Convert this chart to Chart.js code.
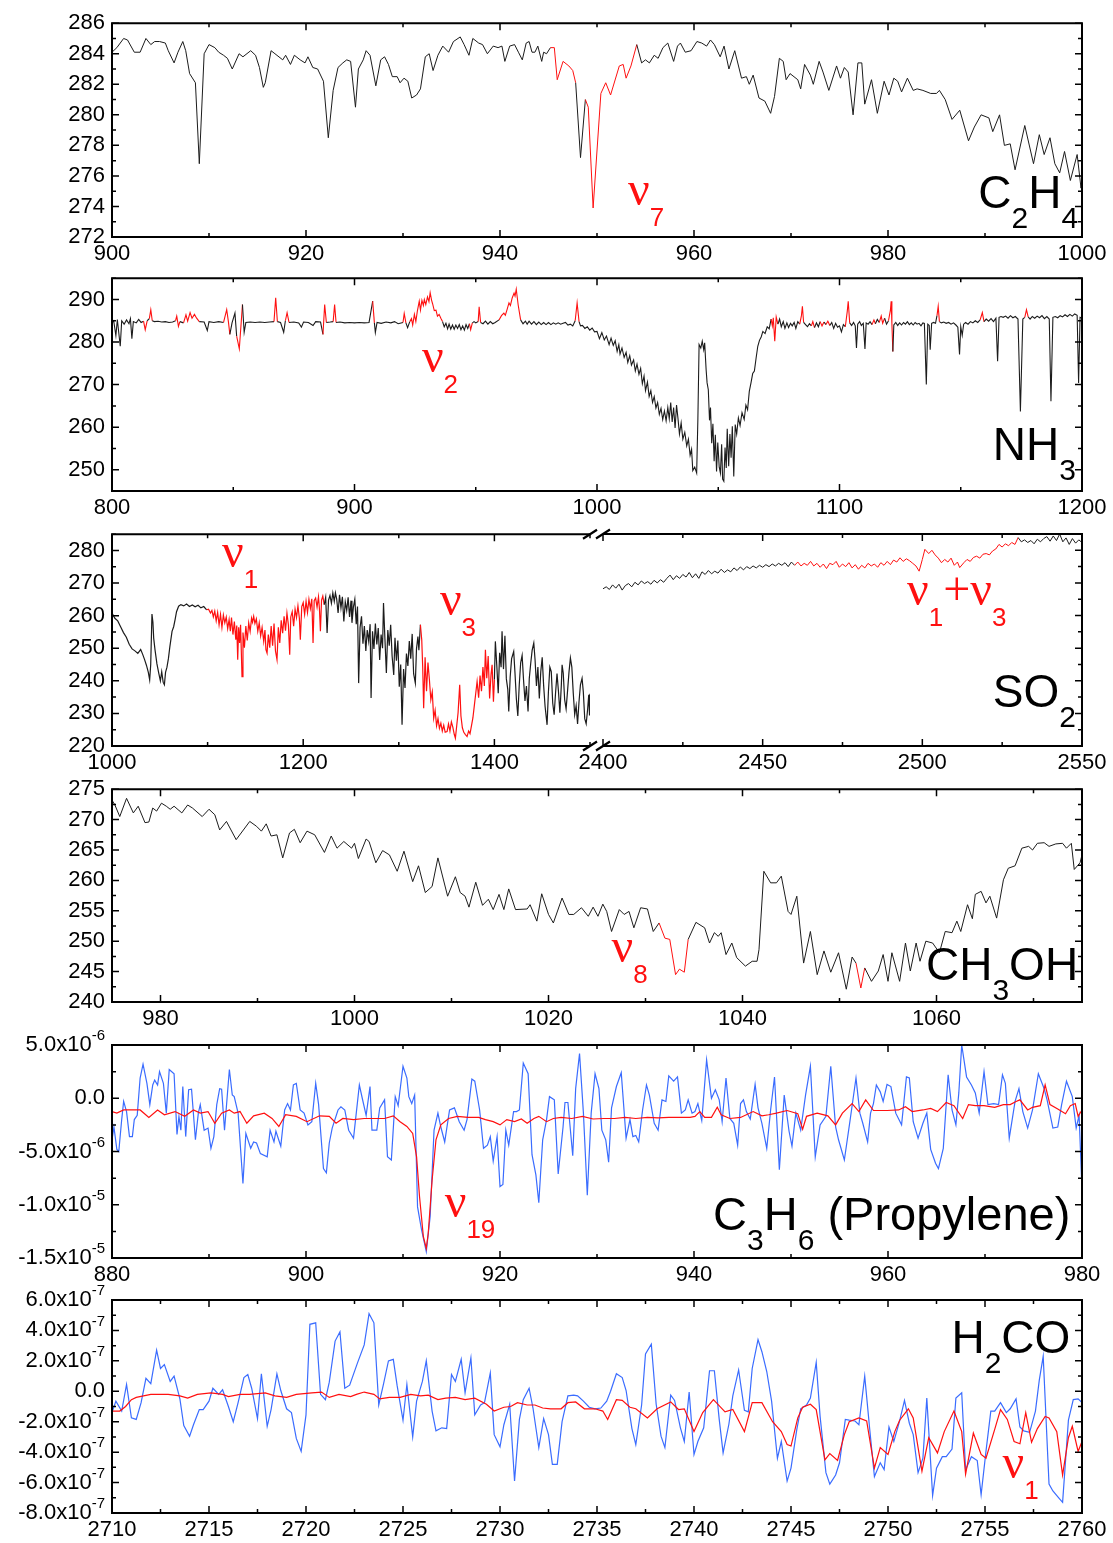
<!DOCTYPE html>
<html lang="en">
<head>
<meta charset="UTF-8" />
<title>IR spectra</title>
<script src="https://cdn.jsdelivr.net/npm/chart.js"></script>
<style>
  body { margin: 0; background: #fff; }
  #wrap { position: relative; width: 1113px; height: 1543px; overflow: hidden; background: #fff; }
  #wrap canvas { position: absolute; }
</style>
</head>
<body>
<div id="wrap">
  <canvas id="c2h4"></canvas>
  <canvas id="nh3"></canvas>
  <canvas id="so2a"></canvas>
  <canvas id="so2b"></canvas>
  <canvas id="ch3oh"></canvas>
  <canvas id="c3h6"></canvas>
  <canvas id="h2co"></canvas>
</div>
<script>
const SANS = "'Liberation Sans', Arial, sans-serif";
const SERIF = "'Liberation Serif', 'Times New Roman', serif";
const BLACK = '#1c1c1c', RED = '#ff1010', BLUE = '#3a6cff';

// ---- C2H4 (cm-1, signal) ----
const c2h4 = [[900,284.1],[900.5,284.4],[901.2,285.0],[901.6,284.9],[902.3,284.1],[902.9,284.1],[903.5,285.0],[904.0,284.6],[904.4,284.8],[904.9,284.8],[905.5,284.7],[905.8,284.2],[906.4,283.4],[906.8,284.1],[907.3,284.8],[907.6,284.2],[908.0,282.7],[908.6,282.1],[909.0,276.8],[909.5,284.0],[910.0,284.6],[910.6,284.4],[911.0,284.1],[911.5,283.9],[911.9,283.7],[912.4,283.0],[913.1,284.0],[913.5,283.8],[914.3,284.2],[914.8,283.9],[915.2,283.1],[915.6,281.8],[915.8,282.1],[916.4,284.2],[916.8,284.0],[917.6,283.6],[917.9,283.9],[918.4,283.3],[918.8,283.9],[919.4,283.6],[919.9,283.4],[920.2,283.8],[920.7,283.1],[921.2,283.0],[921.8,282.2],[922.3,278.5],[922.8,281.6],[923.3,283.1],[923.8,283.4],[924.2,283.6],[924.6,283.5],[925.1,280.5],[925.4,283.0],[925.9,283.6],[926.2,284.2],[926.6,283.9],[927.2,281.9],[927.7,283.6],[928.1,283.8],[928.5,283.3],[928.9,282.5],[929.4,282.5],[929.7,282.1],[930.1,282.4],[930.5,282.2],[930.9,281.1],[931.4,281.3],[931.8,281.7],[932.3,283.8],[932.7,284.0],[933.1,282.9],[933.6,283.9],[934.1,284.5],[934.7,284.1],[935.2,284.8],[935.9,285.1],[936.3,284.6],[936.8,283.9],[937.2,285.0],[937.8,284.7],[938.2,284.6],[938.7,284.0],[939.3,284.5],[939.8,284.4],[940.2,284.5],[940.5,283.5],[941.0,284.5],[941.5,284.6],[941.9,284.1],[942.3,283.6],[942.7,284.7],[943.0,284.8],[943.3,284.1],[943.6,284.1],[943.9,284.5],[944.3,283.5],[944.5,284.1],[944.8,284.0],[945.2,284.4],[945.6,284.4],[945.9,282.3],[946.5,283.5],[947.1,283.2],[947.5,282.9],[947.8,282.1],[948.3,277.2],[948.8,281.0],[949.1,280.5],[949.6,273.9],[950.4,281.4],[950.9,282.1],[951.4,281.3],[952.3,283.2],[952.7,283.3],[953.0,282.4],[953.5,283.2],[954.1,284.6],[954.6,283.4],[955.0,283.6],[955.4,283.4],[955.9,283.9],[956.3,283.7],[956.8,284.4],[957.3,284.7],[957.9,283.5],[958.3,284.5],[958.6,284.7],[959.1,284.1],[959.7,284.2],[960.3,284.8],[960.8,284.7],[961.3,284.5],[961.7,284.9],[962.1,284.6],[962.7,283.8],[963.1,284.5],[963.6,283.0],[964.2,284.2],[964.9,282.4],[965.4,282.5],[965.7,282.0],[966.1,282.6],[966.7,281.1],[967.3,280.9],[967.9,280.1],[968.3,281.2],[968.8,283.7],[969.2,283.5],[969.5,282.3],[969.9,282.7],[970.7,282.3],[971.0,281.7],[971.4,283.3],[972.0,282.6],[972.3,282.0],[972.9,283.5],[973.3,282.8],[973.9,281.6],[974.7,283.2],[975.1,282.4],[975.5,283.1],[975.9,282.8],[976.4,280.0],[976.9,283.4],[977.3,283.4],[977.6,280.7],[978.3,282.3],[978.9,280.1],[979.6,282.2],[980.1,281.3],[980.6,282.4],[981.0,282.2],[981.4,281.5],[982.0,282.4],[982.6,281.6],[983.0,281.7],[983.6,281.6],[984.4,281.4],[985.0,281.4],[985.3,281.6],[985.9,281.0],[986.6,279.7],[987.4,280.3],[988.3,278.3],[988.9,279.2],[989.6,280.0],[990.4,279.8],[990.8,278.9],[991.5,280.0],[992.0,278.0],[992.6,278.1],[993.1,276.4],[994.1,279.3],[995.0,276.8],[995.6,278.7],[996.1,277.4],[996.7,278.5],[997.2,276.8],[997.7,276.2],[998.2,277.6],[998.8,275.7],[999.5,277.4],[999.9,275.2],[1000,276.0]];
const c2h4Red = [[945.1,947.7],[948.7,954.1]];
const c2h4XTicks = [900,920,940,960,980,1000];
const c2h4YTicks = [272,274,276,278,280,282,284,286];

// ---- NH3 ----
const nh3 = [[800,284.5],[800.7,285],[801.6,281.5],[802.2,285.3],[803.4,279],[804,285],[805,284.2],[806,285.2],[807,284.3],[807.6,285.5],[808.2,280.8],[808.8,284.8],[810,284.5],[811,285.3],[812,284.6],[813,284.9],[813.7,282.9],[814.5,285],[815.4,285.5],[816,287.6],[816.6,285],[817.5,284.8],[819,284.9],[820.5,284.7],[822,284.8],[823.5,284.6],[825,284.7],[826.2,285],[826.7,286.1],[827.4,283.7],[828,284.8],[829.5,284.5],[830.5,286.4],[831.2,284.9],[832.2,286.9],[833,285.6],[834,286.5],[834.9,285.6],[836,284.8],[838,284.7],[839.3,282.7],[840,284.8],[842,284.6],[844,284.8],[846,284.6],[847.3,287.6],[848,284.8],[848.6,281.8],[849.5,284.5],[850.7,286.8],[851.4,281.4],[852.5,278.4],[853.8,288.8],[854.5,282.3],[855.2,284.6],[857,284.7],[859,284.6],[861,284.7],[863,284.6],[865,284.7],[866.8,284.8],[867.5,290.4],[868.2,284.8],[869.5,284.6],[870.8,282.3],[871.5,285],[872.2,286.9],[873,284.6],[875,284.7],[877,284.5],[878.1,283.5],[879,284.7],[881,284.6],[882.9,283.9],[884,284.8],[886,284.7],[887,281.8],[887.7,288.8],[888.4,284.6],[890,284.7],[891.2,284.8],[891.8,288.8],[892.4,284.6],[894,284.7],[896,284.5],[898,284.6],[900,284.5],[902,284.6],[904,284.5],[906,284.6],[907.5,289.6],[908.2,284.5],[908.6,282.2],[909.3,284.6],[911,284.4],[913,284.7],[915,284.5],[916.5,284.8],[918,284.3],[920,284.6],[920.5,286.7],[921.2,284.5],[921.9,283.4],[922.8,284.8],[923.5,285.5],[924,284],[924.7,286.5],[925.3,284.8],[925.9,287.2],[926.7,289.6],[927.2,287.5],[927.8,289.8],[928.4,288.6],[928.8,290],[929.4,288.8],[930.1,290.6],[930.7,289.5],[931.2,291.6],[931.8,289.8],[932.2,289],[932.9,287.4],[933.6,287.5],[934.2,286.1],[934.9,286.5],[935.6,285.6],[936.3,284.8],[937,283.6],[937.7,284.4],[938.4,283.1],[939,284.2],[939.7,283],[940.4,284],[941.1,283],[941.8,284],[942.5,283.2],[943.2,284.1],[943.9,282.9],[944.6,283.8],[945.3,282.8],[946,284.1],[946.7,283.2],[947.4,284.3],[947.9,282.9],[948.6,284.5],[949.3,284.8],[950,284.5],[951,284.8],[951.4,288.3],[952,284.6],[953,284.3],[954,284.9],[955,284.2],[956,284.8],[957,284.3],[958,284.6],[959.6,285.2],[960.6,286.2],[961.6,286.8],[962.2,286.3],[963,287.8],[963.7,289.2],[964.3,288.6],[965,290.3],[965.8,291.5],[966.2,290.8],[966.7,292.4],[967.5,288.7],[968.5,285.2],[969.5,284.3],[970.5,284.9],[971.2,284.2],[972,284.9],[973,284.2],[974,284.8],[975,284.1],[976,284.7],[977,284.1],[978,284.6],[979,284.1],[980,284.6],[981,284.1],[982,284.5],[983,284.2],[984,284.5],[985,284.2],[986,284.4],[987,284.6],[988,284],[989,284.2],[990,283.8],[991,285],[991.8,289.2],[992.6,284.8],[993.2,283.8],[994,283.9],[995,283.2],[996,283.6],[997,282.8],[998,283.3],[999,282.4],[1000,282.5],[1001,280.8],[1002,282.2],[1003,280.5],[1003.9,281.4],[1005,279.4],[1005.8,280.9],[1006.7,279.2],[1007.5,280.3],[1008.3,277.8],[1009,279.4],[1009.5,277.2],[1010.3,278.6],[1011.2,276.4],[1012,277.6],[1012.7,275.2],[1013.5,276.8],[1014.2,274.6],[1015.1,275.8],[1015.8,273.2],[1016.5,274.8],[1017.3,272.4],[1018,273.8],[1018.7,270.2],[1019.4,272],[1020,268.6],[1020.8,270.6],[1021.5,267.2],[1022.2,268.6],[1022.9,265.8],[1023.6,267.2],[1024.3,264.5],[1025,265.8],[1025.7,263],[1026.4,264.4],[1027.1,261.8],[1027.8,263.8],[1028.5,261.5],[1029.2,264.6],[1029.8,262],[1030.4,265.8],[1031,261.2],[1031.6,264.6],[1032.2,259.8],[1032.8,265.2],[1033.4,262],[1034,258.4],[1034.7,261],[1035.4,257.2],[1036.2,258.8],[1037,255.6],[1037.7,257.2],[1038.4,253.4],[1039,254.8],[1039.5,249.8],[1040.3,250.6],[1041.1,249.2],[1041.6,262],[1042.1,279.4],[1042.8,278.6],[1043.4,280.2],[1044,278.2],[1044.4,279.8],[1045,273.5],[1045.4,270.4],[1045.9,268.8],[1046.4,261.6],[1046.8,264.6],[1047.3,256.2],[1047.8,260.8],[1048.3,252],[1048.8,258.2],[1049.3,249.6],[1049.8,256.4],[1050.4,250.6],[1050.9,249.2],[1051.4,256],[1051.8,247.8],[1052.3,247.3],[1052.8,255.2],[1053.3,250.4],[1053.7,259.6],[1054.3,250.8],[1054.8,258.4],[1055.3,252.8],[1055.8,260.2],[1056.4,248.4],[1057,260.6],[1057.6,258.4],[1058.3,262.2],[1059,260.4],[1059.8,263.4],[1060.7,261.8],[1061.4,265.2],[1062.1,264.1],[1062.8,268.4],[1063.5,270.4],[1064.2,272.6],[1064.9,273.2],[1065.6,276.2],[1066.3,279],[1067,280.4],[1067.7,281.2],[1068.4,282.5],[1069.3,282],[1070.2,283.6],[1071,283.1],[1071.8,285.4],[1072.3,283.8],[1072.7,285.7],[1073.3,280.2],[1073.9,285.9],[1074.6,284.2],[1075.3,285.4],[1076,283.6],[1076.8,284.8],[1077.5,283.2],[1078.3,284.5],[1079,283.4],[1079.8,284.4],[1080.5,283.8],[1081.3,284.6],[1082,283.2],[1082.8,284.8],[1083.6,284.2],[1084.3,286.2],[1084.7,288.4],[1085.2,284.6],[1086,284.1],[1086.8,283.6],[1087.6,284.3],[1088.4,283.8],[1089,284.8],[1089.7,283.4],[1090.5,284.5],[1091.3,283.6],[1092,284.8],[1092.8,283.8],[1093.6,284.7],[1094.4,284.1],[1095.2,284.9],[1096,283.9],[1096.8,284.6],[1097.6,283.2],[1098.4,284.4],[1099.2,283.5],[1100,283.8],[1100.8,282.4],[1101.6,284.1],[1102.4,283.6],[1103.2,287.2],[1103.6,289.6],[1104.2,284.5],[1105,283.9],[1105.8,284.6],[1106.5,283.8],[1107,278.6],[1107.5,284.2],[1108.3,284.8],[1109,283.9],[1109.8,284.4],[1110.5,278.4],[1111,284.5],[1111.8,284.2],[1112.6,284.8],[1113.4,284.1],[1114.2,285.2],[1114.8,284.3],[1115.6,285.3],[1116.4,284.6],[1117.2,286.1],[1117.8,284.4],[1118.6,285.6],[1119.4,284.2],[1120.2,285],[1121,287.5],[1121.3,289.6],[1121.6,284.4],[1122,277.8],[1122.4,284],[1123.2,284.6],[1124,283.9],[1124.8,284.5],[1125.6,284],[1126.4,284.6],[1127.2,284.2],[1128,284.8],[1128.8,284.1],[1129.6,284.5],[1130.4,284],[1131.2,284.6],[1132,284.2],[1132.8,284.4],[1133.6,283.8],[1134.4,284.5],[1135,284.4],[1135.8,270],[1136.4,284.2],[1137,283.9],[1137.4,278.2],[1138,284.4],[1138.8,284.6],[1139.6,284.4],[1140.2,286.2],[1140.7,288.4],[1141.2,284.8],[1142,284.5],[1143,284.7],[1144,284.4],[1145,284.6],[1146,284.2],[1147,284.5],[1148,284],[1148.8,283.5],[1149.5,277.1],[1150,283.6],[1150.6,281.6],[1151.2,284.2],[1152,284.6],[1153,284.2],[1154,284.8],[1155,284.5],[1156,285],[1157,284.6],[1158,285.2],[1158.9,286.9],[1159.6,284.8],[1160.5,285.4],[1161.5,284.9],[1162.5,285.5],[1163.5,284.8],[1164.5,285.6],[1165.2,275.5],[1165.8,285.8],[1166.6,286],[1167.5,285.8],[1168.5,286.1],[1169.5,285.6],[1170.5,286.2],[1171.5,285.7],[1172.5,286],[1173.6,285.4],[1174.6,263.7],[1175.6,285.4],[1176.4,285.8],[1177.1,287.6],[1177.8,285.9],[1178.6,285.4],[1179.5,286],[1180.5,285.6],[1181.5,286.1],[1182.5,285.7],[1183.5,286.2],[1184.5,285.5],[1185.5,286],[1186.5,285.4],[1187.2,266.1],[1188,285.8],[1189,286],[1190,285.7],[1191,286.2],[1192,285.9],[1193,286.4],[1194,286],[1195,286.5],[1196,286.1],[1197,286.6],[1198,286.3],[1198.6,270.4],[1199.2,285.8],[1200,285.6]];
const nh3Red = [[813,814.6],[815.3,816.7],[826,827.8],[830,835.5],[846.6,848.3],[851.9,853.2],[867.1,868],[871.8,872.7],[887.3,888.1],[891.4,892.2],[907,908],[920.2,921],[923,936],[947.6,948.3],[950.7,951.8],[959,968.2],[991.3,992.3],[1071.5,1074.3],[1083.8,1085.3],[1088.6,1089.4],[1092.4,1093.8],[1094.8,1095.8],[1102.8,1104],[1113.8,1114.6],[1116.8,1118.2],[1120.6,1121.8],[1140,1141],[1158.4,1159.3],[1176.7,1177.5]];
const nh3XTicks = [800,900,1000,1100,1200];
const nh3YTicks = [250,260,270,280,290];

// ---- SO2, low and high wavenumber parts ----
const so2Low = [[1000,260.8],[1003,259.2],[1006,258.4],[1009,256.6],[1012,254.8],[1015,253.4],[1018,251.2],[1021,249.8],[1024,249.2],[1027,248.4],[1030,249.6],[1032,248.2],[1034,246.6],[1036,244.8],[1038,242.6],[1039.4,240.3],[1040.5,245],[1041.8,260.5],[1042.8,258],[1043.6,253.1],[1045,249.5],[1047,245.2],[1049,242.2],[1050.6,240],[1052,242.8],[1053.5,239.6],[1054.8,238.8],[1056,242.6],[1057.5,244.2],[1059,246.8],[1060.5,250.4],[1062.8,255.2],[1064.5,256.6],[1066,258.8],[1067.5,261.2],[1069.7,262.9],[1072,263.4],[1075,263],[1078,263.6],[1081,262.8],[1084,263.3],[1087,262.7],[1090,263.2],[1093,262.4],[1096,262.8],[1099,261.8],[1101,262],[1103,260.8],[1104.5,261.6],[1106,259.6],[1107.5,261.4],[1109,258.4],[1110.5,261],[1112,257.2],[1113.5,260.4],[1115,256.4],[1116.5,260.2],[1118,257.8],[1119.5,259.6],[1121,256],[1122.5,258.8],[1123.8,255.2],[1125,259.4],[1126.5,254.2],[1128,258.2],[1129.5,252.6],[1130.5,257],[1131.5,246.5],[1132.5,256.4],[1133.5,251.6],[1134.5,257.2],[1136,241.3],[1137,254.8],[1138.5,250.2],[1140,256.8],[1141.5,252.4],[1143,257.8],[1144.5,255.2],[1146,259.2],[1147,258],[1148.2,259.8],[1149.5,257.6],[1151,259],[1152.5,255.2],[1154,257.8],[1155.5,253.8],[1157,256.4],[1158.7,252.1],[1160,255.6],[1161,249.6],[1162.2,248.5],[1163.5,254.2],[1165,250.2],[1166.5,256.8],[1168,250.8],[1169.5,257.6],[1171,249.2],[1172.6,246.5],[1174,256.4],[1175.5,251.6],[1177,258.6],[1178.5,254.6],[1180,259.8],[1181.5,255.4],[1183,260.8],[1184.5,257.2],[1185.9,248],[1187,259.6],[1188.5,261.2],[1190,256.8],[1191.5,262],[1193,259.4],[1194.5,263],[1196,259.2],[1197,252.6],[1198.5,262.8],[1200,264],[1201.5,260.4],[1203,264.4],[1204.5,261],[1206,265],[1207.5,262.2],[1209,265.2],[1210.3,251.6],[1211.5,264.6],[1213,265.4],[1214.5,262.6],[1216,265.8],[1217,262],[1218,255.2],[1219.2,264.8],[1220.5,266],[1222,263.4],[1223.5,265.6],[1225,254.7],[1226.5,264.8],[1228,266.2],[1229.5,263.8],[1231,267],[1232.5,264.4],[1233.7,267],[1235,265.2],[1236.5,260.8],[1238,266.4],[1239.5,262.4],[1241,265.8],[1242.5,258.2],[1244,264.2],[1245.5,261.6],[1247,265.6],[1248.5,259.6],[1250,264.6],[1251,257.8],[1252.5,262.6],[1254,265],[1255.5,257.4],[1256.8,262.8],[1258,239.3],[1259.5,256.4],[1261,259.8],[1262.5,251.4],[1264,256.8],[1265.5,249.2],[1267,255.6],[1268.5,252.2],[1270,257.4],[1271,234.7],[1272.5,255.2],[1274,249.8],[1275.5,257.6],[1277,251.2],[1278.5,256.2],[1280,246.4],[1281.5,254.2],[1283,250],[1284,263.9],[1285.5,252.8],[1287,242.4],[1288.5,255.6],[1290,250.8],[1291.5,257.2],[1293,247.6],[1294.7,241.8],[1296,253.2],[1297.5,246.2],[1299,252.4],[1300.5,238.2],[1302,245],[1303.4,226.5],[1305,243.6],[1306.5,237.8],[1308,248.4],[1309.5,244.6],[1311,252.2],[1312.5,246.8],[1314,254.4],[1315.5,242.2],[1317.3,239.3],[1318.5,249.8],[1320,253.6],[1321,249.4],[1322.6,257.2],[1324,252.6],[1325,244.2],[1326,231.6],[1327.5,247.2],[1329,236.8],[1330.5,245.6],[1332,240.4],[1333.5,234.2],[1335,236.6],[1336.5,228.5],[1338,231],[1339.5,226.2],[1341,228.4],[1342.5,225.4],[1344,227],[1345.5,224.6],[1347,226.4],[1348.5,224.2],[1350.5,224.4],[1352,226.8],[1353.5,224.6],[1355,227.4],[1356.5,225.8],[1358,223.6],[1359.2,222.4],[1360.5,226],[1362,230.2],[1363.7,238.8],[1365,229.2],[1366.5,225.6],[1368,224.2],[1369.5,223.6],[1371.4,222.9],[1373,224.6],[1374.5,223.8],[1376,226.2],[1377.5,228.6],[1379,232.4],[1380.5,236.2],[1381.9,239.8],[1383.5,234.8],[1385,241.6],[1386.5,236.8],[1388,244.2],[1389.5,238.4],[1390.6,249.5],[1392,240.8],[1393.5,247.6],[1395,234.6],[1396.5,242],[1397.6,244.9],[1399,233.6],[1400,240.4],[1401,252.1],[1402.5,244.8],[1404,236.2],[1405.5,248.6],[1407,244.2],[1408,255.2],[1409.5,243.6],[1411,253.8],[1412.5,240.6],[1414,237.4],[1415,230.6],[1416.5,241.2],[1418,246.8],[1420.2,249],[1421.5,242.6],[1423,234.4],[1424.5,229.2],[1426,238.8],[1427.5,245.6],[1429,247.8],[1430.5,240.2],[1432,233.8],[1433.5,238.4],[1435.2,230.6],[1436.5,240.8],[1438,245.4],[1439.5,249.4],[1441.2,251.6],[1442.5,246.6],[1444,238.4],[1445.5,244.2],[1447,234.6],[1448.5,242.8],[1450,247.2],[1451.5,238.6],[1453,232.2],[1455.1,226.5],[1456.5,236.6],[1458,244.2],[1459.5,242.8],[1461,233.2],[1462.5,229.6],[1464,236.4],[1465.5,242.2],[1467,236.8],[1468.5,230.2],[1470,238.6],[1470.8,244.9],[1472,242.4],[1473.5,234.2],[1475,231.4],[1476.5,236.8],[1478,242.6],[1479.5,247],[1481,244.2],[1482.5,236.2],[1484,229.6],[1485.5,232.4],[1487,226.8],[1488.5,233.6],[1490,238.8],[1491.7,240.8],[1493,236.6],[1494.5,228.4],[1496,226.8],[1497.5,231.2],[1498.7,235.7],[1499.5,229.4],[1500,236]];
const so2LowRed = [[1100,1221.5],[1323.3,1399.5]];
const so2High = [[2400,268.2],[2401,268.8],[2402,268],[2403,269.4],[2404,268.4],[2405,269.6],[2406,267.8],[2407,269.2],[2408,269.8],[2409,268.8],[2410,270.2],[2411,269.4],[2412,270.6],[2413,269.8],[2414,270.4],[2415,269.6],[2416,270.8],[2417,270],[2418,271],[2419,270.2],[2420,271.4],[2421,272.4],[2422,271],[2423,272.2],[2424,271.4],[2425,272.6],[2426,271.8],[2427,273.2],[2428,271.6],[2429,272.8],[2430,271.4],[2431,273.4],[2432,272.6],[2433,273.8],[2434,272.8],[2435,273.6],[2436,273],[2437,274.2],[2438,273.2],[2439,274],[2440,273.4],[2441,274.6],[2442,273.8],[2443,274.9],[2444,274],[2445,275],[2446,274.4],[2447,275.2],[2448,274.6],[2449,275.4],[2450,274.8],[2451,275.6],[2452,275],[2453,275.8],[2454,275.2],[2455,276],[2456,275.4],[2457,276.2],[2458,275],[2459,276.4],[2460,275.4],[2461,276.4],[2462,275.2],[2463,276],[2464,275.4],[2465,276.6],[2466,275.2],[2467,276],[2468,274.8],[2469,275.8],[2470,274.4],[2471,276],[2472,275.6],[2473,276.6],[2474,274.8],[2475,275.8],[2476,275],[2477,276.2],[2478,274.6],[2479,275.6],[2480,274.2],[2481,275.4],[2482,274.6],[2483,276],[2484,275.2],[2485,275.8],[2486,274.8],[2487,276.2],[2488,275.4],[2489,276.6],[2490,275.6],[2491,277],[2492,276.4],[2493,277.7],[2494,276.6],[2495,277.4],[2496,276.8],[2497,276],[2498,275.2],[2499,273.6],[2500,277.2],[2500.8,280.3],[2502,279],[2503,280],[2504,278.6],[2505,277.6],[2506,276.2],[2507,277.2],[2508,276.4],[2509,277.6],[2510,275.4],[2511,276.4],[2511.7,274.7],[2513,276.2],[2514,277.2],[2515,276.6],[2516,277.8],[2517,278.2],[2518,277.6],[2519,278.8],[2520,279],[2521,278.6],[2522,279.8],[2523,280.4],[2524,281.8],[2525,281],[2526,282],[2527,281.4],[2528,282.4],[2529,281.8],[2530,283.9],[2531,282.6],[2532,283.2],[2533,282.4],[2534,283],[2535,282],[2536,283.4],[2537,282.6],[2538,283.6],[2539,284.2],[2540,282.8],[2541,284.4],[2542,283],[2543,285],[2544,282.6],[2545,283.8],[2546,281.8],[2547,283.6],[2548,282.2],[2549,283.2],[2550,282.4]];
const so2HighRed = [[2460,2530]];
const so2LowXTicks = [1000,1200,1400];
const so2HighXTicks = [2400,2450,2500,2550];
const so2YTicks = [220,230,240,250,260,270,280];

// ---- CH3OH ----
const ch3oh = [[975,273.2],[975.3,272.4],[975.8,270.5],[976.5,273.5],[977.2,271.1],[977.7,272.2],[978.4,269.5],[978.8,269.6],[979.2,271.9],[979.6,271.4],[980.1,272.7],[980.6,272.2],[981,271.7],[981.4,272.2],[982.2,271.1],[982.8,272.4],[983.3,271.9],[984.3,270.5],[985,271.7],[985.6,270.8],[986.1,268.3],[986.8,269.7],[987.8,266.7],[989.2,269.7],[989.9,268.9],[990.4,268.1],[990.9,269.3],[991.4,267.3],[992,267.5],[992.6,263.7],[993.3,267.8],[993.8,268.4],[994.4,266.2],[995.1,268.1],[995.9,267.5],[996.9,264.6],[997.6,267.3],[998.2,265.3],[998.9,266.4],[999.7,265.3],[1000,266.1],[1000.4,263.6],[1001.2,266.8],[1001.5,266.4],[1002.2,262.9],[1002.9,264.9],[1003.6,264.2],[1004.4,261.5],[1005.1,264.8],[1006,259.8],[1006.6,262.4],[1007.3,258.0],[1008,259],[1008.6,263.7],[1009.6,257.4],[1010.4,260.6],[1010.9,258],[1011.4,257.4],[1011.8,255.6],[1012.5,259.7],[1013.2,255.9],[1013.8,256.9],[1014.3,255.2],[1014.9,257.7],[1015.4,255.2],[1015.9,258.6],[1016.6,255.2],[1017.8,255.3],[1018.1,256],[1018.8,253.3],[1019.3,257.8],[1020,254.4],[1020.5,253],[1021.4,257.1],[1022.1,254.4],[1022.6,254.4],[1023.4,255.5],[1024.1,254.1],[1024.6,255.6],[1025.1,254.1],[1025.6,256.1],[1026,254.9],[1026.5,251.6],[1027.3,255.2],[1027.8,254.4],[1028.3,254.9],[1028.8,252.2],[1029.5,255.5],[1030.2,255.3],[1030.8,251.6],[1031.4,253],[1032,250.5],[1032.5,250.3],[1033.1,244.5],[1033.5,245.4],[1034,244.9],[1034.4,250.3],[1035.2,253.1],[1036.1,252.2],[1036.6,249.7],[1037.1,251.4],[1037.5,250.8],[1037.8,251.4],[1038.3,247.8],[1038.9,249.7],[1039.4,247.3],[1040.3,245.9],[1041,246.7],[1041.5,246.7],[1041.7,248.6],[1042.2,261.5],[1042.9,259.6],[1043.5,259.6],[1044,260.7],[1044.7,254.9],[1045,254.4],[1045.6,257.4],[1046.3,246.4],[1047,251.6],[1047.7,244.5],[1048.4,248.4],[1049.1,244.9],[1049.9,248.1],[1050.7,242.1],[1051.3,247.4],[1051.7,246.4],[1052.2,242.3],[1052.6,245.6],[1053.3,243.4],[1054,245.1],[1054.5,247.8],[1055,243.4],[1055.4,248.1],[1056.2,243.4],[1056.8,249.7],[1057.3,245.1],[1057.9,249.7],[1058.3,246.7],[1058.9,250],[1059.6,249.7],[1060.3,248.1],[1060.9,251.6],[1061.6,251.4],[1062.1,253.3],[1062.5,251.6],[1063.2,256],[1063.7,253.7],[1064,257.7],[1064.6,258.2],[1065.1,256.3],[1065.5,257.4],[1066.2,253.8],[1066.9,260.1],[1067.4,262],[1068.1,262.4],[1068.8,265.3],[1069.5,265.6],[1069.9,265],[1070.4,266.1],[1071.1,266.2],[1071.6,265.6],[1072.3,266],[1073,266.1],[1073.4,265.3],[1073.9,266.1],[1074.2,261.8],[1074.8,262.9],[1075,264.2]];
const ch3ohRed = [[1031.7,1034.2],[1051.9,1052.4]];
const ch3ohXTicks = [980,1000,1020,1040,1060];
const ch3ohYTicks = [240,245,250,255,260,265,270,275];

// ---- C3H6 (units of 1e-6): measured (blue) and reference (red) ----
const c3h6Meas = [[880.0,-3.9],[880.2,-2.7],[880.5,-4.8],[880.7,-5.0],[881.0,-2.0],[881.2,-0.3],[881.5,-1.25],[881.8,-3.6],[882.1,-3.6],[882.3,-2.0],[882.6,-1.6],[882.9,1.9],[883.2,3.2],[883.6,1.4],[883.9,-0.6],[884.2,1.25],[884.4,1.7],[884.7,1.25],[884.9,2.5],[885.3,1.4],[885.6,-1.4],[885.9,2.7],[886.4,2.3],[886.7,-3.4],[886.9,-1.7],[887.1,-3.0],[887.3,1.1],[887.6,-3.6],[887.9,0.8],[888.2,0.85],[888.6,-3.9],[888.9,-1.4],[889.1,-0.6],[889.5,-3.0],[889.9,-2.8],[890.2,-4.7],[890.5,-3.6],[890.8,-0.6],[891.1,0.9],[891.3,0.85],[891.6,-3.0],[892.1,2.7],[892.4,0.3],[892.6,0.15],[893.0,-1.4],[893.5,-8.0],[893.8,-3.3],[894.3,-4.7],[894.6,-4.1],[894.9,-4.2],[895.3,-5.2],[896.0,-5.5],[896.3,-3.0],[896.7,-4.1],[896.9,-3.1],[897.4,-4.5],[897.8,-1.1],[898.1,-0.5],[898.4,-1.1],[898.7,1.25],[899.0,1.4],[899.4,-1.1],[899.8,-1.4],[900.2,-2.5],[900.6,-2.2],[901.0,1.4],[901.3,-0.6],[901.8,-6.6],[902.1,-7.0],[902.4,-4.2],[902.7,-2.8],[903.3,-1.1],[903.6,-0.8],[904.0,-1.1],[904.4,-3.0],[904.9,-3.75],[905.5,1.25],[905.8,0.0],[906.2,-1.6],[906.6,1.1],[906.8,-3.0],[907.3,-3.0],[907.6,-0.9],[908.1,-0.15],[908.4,-5.5],[908.8,-5.8],[909.2,0.15],[909.5,-0.7],[910.0,3.0],[910.4,1.9],[910.6,0.15],[910.9,-0.5],[911.2,0.3],[911.5,-10.2],[911.9,-12.3],[912.4,-14.4],[912.8,-11.1],[913.2,-3.0],[913.6,-1.4],[913.9,-2.7],[914.3,-4.1],[914.8,-1.1],[915.3,-0.9],[915.8,-2.2],[916.3,-3.0],[916.6,-2.0],[917.1,1.8],[917.4,1.6],[917.9,-1.1],[918.3,-4.7],[918.7,-4.4],[919.0,-3.6],[919.3,-5.9],[919.7,-3.6],[920.0,-8.3],[920.3,-8.1],[920.6,-3.0],[920.9,-4.4],[921.4,-1.25],[921.7,-1.25],[922.0,-1.1],[922.4,3.3],[922.9,2.3],[923.3,-5.3],[923.7,-7.2],[924.0,-9.8],[924.4,-3.9],[924.8,-2.0],[925.1,0.15],[925.6,-0.15],[926.0,-7.1],[926.5,-2.7],[926.7,-0.4],[927.0,-0.4],[927.5,-5.4],[927.8,0.9],[928.2,4.2],[928.6,-1.4],[929.0,-9.1],[929.4,-1.4],[929.8,2.3],[930.2,0.9],[930.5,-3.0],[930.9,-3.9],[931.2,-6.0],[931.5,-0.9],[932.0,1.1],[932.5,2.4],[933.0,-3.75],[933.4,-2.0],[933.7,-3.6],[934.0,-3.5],[934.3,-4.1],[934.7,-1.1],[935.1,1.25],[935.4,0.3],[935.9,-2.35],[936.3,-3.0],[936.7,-0.15],[937.1,-0.3],[937.4,2.1],[937.9,1.6],[938.3,2.0],[938.7,-1.4],[939.1,-1.1],[939.4,-0.15],[939.8,-1.4],[940.1,-1.25],[940.4,-0.5],[940.8,-2.1],[941.3,3.6],[941.8,0.0],[942.2,0.8],[942.6,-0.15],[942.9,-2.2],[943.3,1.9],[943.7,-1.9],[944.1,-2.35],[944.5,-4.4],[944.8,-0.5],[945.1,-0.15],[945.4,-1.25],[945.8,-1.95],[946.3,1.3],[946.6,-0.9],[947.0,-2.35],[947.5,-4.7],[947.9,-1.1],[948.3,2.0],[948.8,-6.7],[949.3,0.3],[949.8,-3.1],[950.1,-4.5],[950.5,-1.4],[951.0,-3.0],[951.5,0.3],[952.0,3.0],[952.5,-5.5],[953.0,-2.5],[953.6,-1.7],[954.1,3.0],[954.6,-2.7],[954.9,-3.9],[955.5,-5.8],[956.1,-2.0],[956.7,1.9],[957.1,-1.4],[957.4,-2.35],[957.9,-4.1],[958.2,-1.4],[958.5,-0.5],[958.8,1.25],[959.2,0.6],[959.5,-0.3],[959.9,1.3],[960.3,1.1],[960.8,-1.4],[961.4,-2.5],[961.9,2.0],[962.2,1.9],[962.6,-2.2],[963.1,-3.75],[963.6,-2.35],[964.0,-1.4],[964.4,-4.8],[964.9,-6.1],[965.2,-6.6],[965.7,-4.7],[966.2,2.2],[966.6,-1.1],[967.0,-2.5],[967.3,0.5],[967.6,5.0],[968.1,2.0],[968.6,1.25],[969.0,0.5],[969.4,-1.4],[969.9,2.5],[970.3,-0.6],[970.9,-0.5],[971.4,-0.6],[971.8,2.2],[972.1,1.4],[972.5,-3.75],[973.1,-0.3],[973.5,0.9],[973.9,-1.25],[974.4,-2.8],[974.9,-1.1],[975.5,2.3],[976.1,0.9],[976.4,-0.15],[977.0,-2.8],[977.5,-2.7],[977.9,-0.6],[978.4,1.6],[979.0,0.15],[979.4,-2.8],[979.7,-1.6],[980.0,-8.6]];
const c3h6Ref = [[880,-1.25],[880.5,-1.4],[881.2,-1.1],[882.9,-1.1],[883.8,-1.8],[884.7,-1.1],[885.4,-1.55],[886.5,-1.25],[887.5,-1.7],[888.4,-1.1],[889.1,-1.4],[889.9,-1.25],[890.6,-2.35],[891.3,-1.4],[892.1,-1.1],[892.6,-1.4],[893.2,-1.25],[893.9,-2.35],[894.6,-1.65],[895.7,-1.4],[896.5,-1.9],[897.2,-2.65],[897.9,-1.55],[899.0,-1.7],[900.1,-2.2],[901.4,-1.65],[902.4,-1.7],[903.1,-2.35],[903.8,-1.9],[904.9,-2.0],[906.0,-1.9],[907.1,-1.9],[908.1,-1.9],[909.0,-1.65],[909.7,-2.2],[910.4,-2.65],[911.0,-3.3],[911.4,-5.5],[911.7,-9.2],[912.1,-13.0],[912.4,-14.1],[912.6,-12.7],[913.0,-7.7],[913.4,-3.9],[913.9,-2.5],[914.7,-1.9],[915.6,-1.7],[916.7,-1.8],[917.8,-1.8],[918.5,-2.0],[919.3,-2.2],[920.0,-2.5],[920.7,-2.0],[921.5,-2.2],[922.2,-1.95],[922.8,-2.35],[923.5,-1.9],[924.0,-1.7],[924.8,-2.2],[925.5,-1.9],[926.3,-1.8],[927.4,-1.9],[928.5,-1.7],[929.6,-1.95],[930.7,-1.9],[931.8,-1.9],[932.9,-1.8],[934.0,-1.9],[935.2,-1.8],[936.3,-1.85],[937.4,-1.8],[938.5,-1.8],[939.6,-1.8],[940.1,-1.7],[940.6,-1.25],[941.1,-1.8],[941.8,-1.8],[942.4,-0.85],[942.8,-1.55],[943.7,-1.9],[944.8,-1.8],[946.1,-1.25],[947.0,-1.65],[947.7,-1.55],[948.5,-1.4],[949.6,-1.15],[950.7,-1.45],[951.2,-2.9],[951.6,-1.7],[952.7,-1.4],[953.8,-1.65],[954.6,-2.5],[955.3,-1.4],[956.3,-0.5],[957.0,-1.25],[957.7,-0.15],[958.5,-1.15],[959.9,-1.15],[961.1,-1.1],[961.8,-0.8],[962.5,-1.25],[963.6,-1.1],[964.4,-0.95],[965.1,-1.25],[966.0,-0.4],[966.8,-0.7],[967.7,-1.9],[968.3,-0.6],[969.0,-0.7],[969.9,-0.7],[971.0,-0.85],[971.9,-0.6],[972.6,-0.6],[973.2,-0.3],[973.6,-0.15],[974.4,-1.1],[974.9,-0.85],[975.7,-0.7],[976.2,1.25],[976.7,-0.6],[977.5,-1.0],[978.3,-1.45],[978.8,-0.7],[979.3,-0.5],[979.6,-1.7],[980.0,-1.1]];
const c3h6XTicks = [880,900,920,940,960,980];
const c3h6YTicks = [-15,-10,-5,0,5];

// ---- H2CO (units of 1e-7): measured (blue) and reference (red) ----
const h2coMeas = [[2710.0,-1.4],[2710.2,-0.65],[2710.5,-1.3],[2710.75,0.45],[2711.0,-1.75],[2711.25,-1.85],[2711.5,-0.75],[2711.75,0.85],[2712.0,0.5],[2712.3,2.7],[2712.5,1.5],[2712.7,1.75],[2713.0,0.65],[2713.2,1.0],[2713.5,-0.5],[2713.7,-2.25],[2714.0,-2.95],[2714.2,-2.2],[2714.5,-1.2],[2714.7,-1.2],[2715.0,-0.65],[2715.2,0.2],[2715.5,-0.2],[2715.7,0.1],[2716.0,-1.0],[2716.25,-2.0],[2716.5,-0.75],[2716.8,0.9],[2717.0,1.1],[2717.2,0.2],[2717.5,-1.8],[2717.7,1.15],[2718.0,-2.3],[2718.2,-1.2],[2718.5,1.15],[2718.7,0.05],[2719.0,-1.15],[2719.25,-1.4],[2719.5,-3.1],[2719.75,-3.95],[2720.0,-1.55],[2720.2,4.4],[2720.5,4.5],[2720.75,-0.2],[2721.0,-0.55],[2721.2,0.6],[2721.5,3.3],[2721.75,3.9],[2722.0,0.2],[2722.25,0.4],[2722.65,1.85],[2723.0,3.05],[2723.25,5.1],[2723.5,4.5],[2723.75,-0.9],[2724.0,0.5],[2724.25,2.0],[2724.5,2.1],[2724.7,0.35],[2725.0,-1.9],[2725.2,0.45],[2725.5,-3.0],[2725.7,-0.65],[2726.0,0.65],[2726.2,2.0],[2726.5,-1.3],[2726.7,-2.6],[2727.0,-2.4],[2727.25,-2.45],[2727.5,1.1],[2727.7,0.65],[2728.0,2.1],[2728.2,-0.1],[2728.5,2.2],[2728.7,-1.55],[2729.0,-0.9],[2729.2,-0.75],[2729.5,1.2],[2729.7,-2.85],[2730.0,-3.65],[2730.2,-2.2],[2730.5,-0.85],[2730.75,-5.9],[2731.0,-1.85],[2731.2,-0.55],[2731.5,0.2],[2731.7,-1.1],[2732.0,-3.7],[2732.25,-1.8],[2732.5,-2.85],[2732.7,-4.8],[2732.95,-4.8],[2733.2,-2.0],[2733.5,-0.3],[2733.8,-0.25],[2734.0,-0.3],[2734.3,-0.65],[2734.6,-1.05],[2734.9,-1.15],[2735.2,-1.1],[2735.5,-0.65],[2735.7,0.0],[2736.0,1.15],[2736.3,0.9],[2736.5,0.05],[2736.8,-2.45],[2737.0,-3.5],[2737.3,-0.9],[2737.5,2.45],[2737.8,3.1],[2738.05,-0.85],[2738.3,-2.95],[2738.5,-3.7],[2738.8,-0.25],[2739.0,-0.6],[2739.3,-2.4],[2739.5,-3.3],[2739.75,-0.05],[2740.0,-4.15],[2740.2,-3.3],[2740.5,-2.4],[2740.8,1.35],[2741.05,1.35],[2741.3,-1.85],[2741.5,-4.05],[2741.8,-2.15],[2742.0,-0.3],[2742.3,1.4],[2742.6,-1.25],[2742.8,-1.35],[2743.0,1.5],[2743.3,3.4],[2743.5,2.6],[2743.75,1.3],[2744.0,-0.65],[2744.3,-4.4],[2744.5,-3.3],[2744.8,-5.9],[2745.0,-5.05],[2745.3,-2.5],[2745.5,-1.15],[2745.8,-0.9],[2746.0,-0.45],[2746.3,1.9],[2746.5,-1.65],[2746.8,-5.35],[2747.0,-6.1],[2747.3,-5.5],[2747.5,-4.7],[2747.8,-1.85],[2748.0,-1.9],[2748.3,-1.95],[2748.5,-2.2],[2748.8,1.0],[2749.05,-2.4],[2749.3,-5.6],[2749.6,-4.7],[2749.8,-5.15],[2750.05,-2.35],[2750.3,-3.3],[2750.6,-1.95],[2750.85,-0.6],[2751.1,-2.1],[2751.3,-2.85],[2751.55,-5.35],[2751.8,-4.4],[2752.0,-0.45],[2752.3,-6.85],[2752.5,-5.05],[2752.8,-4.3],[2753.0,-4.3],[2753.3,-3.8],[2753.5,-0.45],[2753.8,-0.1],[2754.0,-5.15],[2754.3,-4.3],[2754.6,-4.55],[2754.8,-6.8],[2755.05,-3.95],[2755.3,-1.3],[2755.5,-1.3],[2755.8,-0.75],[2756.1,-1.4],[2756.3,-1.15],[2756.6,-0.5],[2756.8,-2.35],[2757.0,-2.6],[2757.3,-2.7],[2757.6,-1.3],[2757.8,0.75],[2758.0,2.3],[2758.3,-6.1],[2758.5,-6.55],[2758.8,-7.0],[2759.0,-7.3],[2759.3,-1.9],[2759.55,-0.55],[2759.8,-0.5],[2760.0,-0.75]];
const h2coRef = [[2710,-1.3],[2710.4,-1.3],[2710.7,-1.0],[2711.0,-0.55],[2711.25,-0.4],[2712,-0.2],[2712.9,-0.2],[2713.5,-0.3],[2713.9,-0.45],[2714.4,-0.2],[2715.1,-0.1],[2715.7,-0.2],[2716.0,-0.35],[2716.6,-0.2],[2717.1,-0.2],[2717.9,-0.1],[2718.4,-0.3],[2719.0,-0.4],[2719.5,-0.2],[2720.3,-0.1],[2720.8,-0.05],[2721.2,-0.4],[2721.7,-0.2],[2722.3,-0.35],[2722.6,-0.2],[2723.0,-0.05],[2723.5,-0.2],[2723.8,-0.5],[2724.3,-0.4],[2724.85,-0.4],[2725.4,-0.2],[2725.9,-0.3],[2726.3,-0.25],[2726.8,-0.55],[2727.2,-0.45],[2727.7,-0.4],[2728.2,-0.55],[2728.7,-0.45],[2729.3,-0.85],[2729.7,-1.3],[2730.2,-1.05],[2730.55,-1.0],[2730.9,-0.75],[2731.4,-0.9],[2731.8,-0.9],[2732.2,-1.1],[2732.6,-1.15],[2733.15,-1.15],[2733.5,-0.75],[2733.9,-0.7],[2734.35,-1.15],[2734.9,-1.15],[2735.3,-1.3],[2735.55,-1.85],[2736.0,-0.55],[2736.3,-0.6],[2736.7,-1.05],[2737.0,-1.15],[2737.6,-1.75],[2738.1,-1.15],[2738.8,-0.7],[2739.2,-1.2],[2739.5,-1.15],[2740.0,-2.65],[2740.45,-1.4],[2741.0,-0.55],[2741.6,-1.35],[2742.0,-1.2],[2742.6,-2.65],[2743.0,-0.75],[2743.5,-0.75],[2744.05,-2.0],[2744.5,-2.65],[2744.8,-3.5],[2745.0,-3.6],[2745.35,-1.75],[2745.6,-1.05],[2746.0,-0.85],[2746.3,-1.2],[2746.75,-4.5],[2747.0,-4.1],[2747.4,-4.55],[2747.75,-2.85],[2748.0,-2.0],[2748.5,-1.75],[2748.9,-1.95],[2749.3,-5.05],[2749.6,-3.7],[2750.0,-4.15],[2750.35,-2.65],[2750.6,-1.9],[2751.05,-1.15],[2751.3,-1.75],[2751.75,-5.25],[2752.1,-3.05],[2752.55,-4.05],[2752.9,-2.65],[2753.4,-1.3],[2753.8,-2.65],[2754.0,-5.45],[2754.4,-2.75],[2754.8,-4.15],[2755.05,-4.4],[2755.5,-2.5],[2755.8,-1.2],[2756.15,-1.85],[2756.5,-3.3],[2756.8,-3.45],[2757.1,-1.4],[2757.4,-3.35],[2757.7,-2.45],[2758.1,-1.65],[2758.3,-1.75],[2758.7,-2.65],[2759.0,-5.5],[2759.3,-3.05],[2759.5,-2.3],[2759.8,-3.95],[2760.0,-3.3]];
const h2coXTicks = [2710,2715,2720,2725,2730,2735,2740,2745,2750,2755,2760];
const h2coYTicks = [-8,-6,-4,-2,0,2,4,6];

// ---- helpers ----
function inRanges(v, ranges) { return ranges.some(r => v >= r[0] && v <= r[1]); }

function trace(pairs, color, width, redRanges, order) {
  const ds = {
    data: pairs.map(p => ({ x: p[0], y: p[1] })),
    borderColor: color, borderWidth: width, pointRadius: 0, tension: 0, fill: false, order: order || 0
  };
  if (redRanges) {
    ds.segment = { borderColor: c => inRanges((c.p0.parsed.x + c.p1.parsed.x) / 2, redRanges) ? RED : color };
  }
  return ds;
}

function steps(min, max, step) {
  const out = [];
  for (let k = Math.ceil(min / step - 1e-9); k * step <= max + 1e-9; k++) out.push(k * step);
  return out;
}

function expParts(v, pow) {
  if (v === 0) return ['0.0', ''];
  const e = Math.floor(Math.log10(Math.abs(v)) + 1e-9);
  return [(v / Math.pow(10, e)).toFixed(1) + 'x10', String(e + pow)];
}

// frame, inward ticks, axis breaks, exponent labels and text notes
const framePlugin = {
  id: 'frame',
  afterDraw(chart, args, o) {
    const { ctx, chartArea: a } = chart;
    const x = chart.scales.x, y = chart.scales.y;
    ctx.save();
    ctx.strokeStyle = '#000';
    ctx.lineWidth = 2;
    ctx.beginPath();
    ctx.moveTo(a.left, a.top); ctx.lineTo(a.right, a.top);
    ctx.moveTo(a.left, a.bottom); ctx.lineTo(a.right, a.bottom);
    if (o.left) { ctx.moveTo(a.left, a.top - 1); ctx.lineTo(a.left, a.bottom + 1); }
    if (o.right) { ctx.moveTo(a.right, a.top - 1); ctx.lineTo(a.right, a.bottom + 1); }
    ctx.stroke();

    ctx.lineWidth = 1.5;
    ctx.beginPath();
    const xt = (v, len) => {
      const p = x.getPixelForValue(v);
      ctx.moveTo(p, a.bottom); ctx.lineTo(p, a.bottom - len);
      ctx.moveTo(p, a.top); ctx.lineTo(p, a.top + len);
    };
    const yt = (v, len) => {
      const p = y.getPixelForValue(v);
      if (o.left) { ctx.moveTo(a.left, p); ctx.lineTo(a.left + len, p); }
      if (o.right) { ctx.moveTo(a.right, p); ctx.lineTo(a.right - len, p); }
    };
    steps(x.min, x.max, o.xMinor).forEach(v => xt(v, 4));
    o.xMajor.forEach(v => xt(v, 7));
    steps(y.min, y.max, o.yMinor).forEach(v => yt(v, 4));
    o.yMajor.forEach(v => yt(v, 7));
    ctx.stroke();

    if (o.brk) {
      const bx = o.brk === 'right' ? a.right : a.left;
      ctx.lineWidth = 2.2;
      ctx.beginPath();
      [a.top, a.bottom].forEach(by => { ctx.moveTo(bx - 7, by + 4.5); ctx.lineTo(bx + 7, by - 4.5); });
      ctx.stroke();
    }

    ctx.fillStyle = '#000';
    if (o.expPow !== undefined) {
      ctx.textAlign = 'left';
      ctx.textBaseline = 'middle';
      o.yMajor.forEach(v => {
        const p = y.getPixelForValue(v);
        const [m, e] = expParts(v, o.expPow);
        ctx.font = `22px ${SANS}`; const w1 = ctx.measureText(m).width;
        ctx.font = `15px ${SANS}`; const w2 = e ? ctx.measureText(e).width : 0;
        const x0 = a.left - 7 - w1 - w2;
        ctx.font = `22px ${SANS}`; ctx.fillText(m, x0, p);
        if (e) { ctx.font = `15px ${SANS}`; ctx.fillText(e, x0 + w1, p - 9); }
      });
    }

    (o.notes || []).forEach(n => {
      const px = x.getPixelForValue(n.at[0]), py = y.getPixelForValue(n.at[1]);
      const fontOf = k => k === 's' ? `${n.sub}px ${SANS}` : (k === 'g' ? `${n.size}px ${SERIF}` : `${n.size}px ${SANS}`);
      ctx.textBaseline = 'alphabetic';
      ctx.textAlign = 'left';
      ctx.fillStyle = n.color;
      let total = 0;
      n.parts.forEach(([t, k]) => { ctx.font = fontOf(k); total += ctx.measureText(t).width; });
      let cx = n.align === 'right' ? px - total : px;
      n.parts.forEach(([t, k]) => {
        ctx.font = fontOf(k);
        ctx.fillText(t, cx, k === 's' ? py + n.dy : py);
        cx += ctx.measureText(t).width;
      });
    });
    ctx.restore();
  }
};

function panel(id, g, datasets, xr, yr, frame, showY) {
  const cv = document.getElementById(id);
  cv.width = g.w;
  cv.height = g.h + 54;
  cv.style.left = g.x + 'px';
  cv.style.top = (g.top - 20) + 'px';
  const tickFont = { family: SANS, size: 22 };
  return new Chart(cv, {
    type: 'line',
    data: { datasets },
    options: {
      responsive: false,
      animation: false,
      events: [],
      layout: { padding: { top: 20, right: g.padR, left: 0, bottom: 0 } },
      plugins: { legend: { display: false }, tooltip: { enabled: false }, frame },
      scales: {
        x: {
          type: 'linear', min: xr[0], max: xr[1],
          grid: { display: false, drawTicks: false }, border: { display: false },
          ticks: { autoSkip: false, maxRotation: 0, padding: 4, color: '#000', font: tickFont, callback: v => String(v) },
          afterBuildTicks: s => { s.ticks = frame.xMajor.map(v => ({ value: v })); },
          afterFit: s => { s.height = 34; }
        },
        y: {
          type: 'linear', min: yr[0], max: yr[1],
          grid: { display: false, drawTicks: false }, border: { display: false },
          ticks: { display: showY, padding: 7, color: '#000', font: tickFont, callback: v => String(v) },
          afterBuildTicks: s => { s.ticks = frame.yMajor.map(v => ({ value: v })); },
          afterFit: s => { s.width = g.left; }
        }
      }
    },
    plugins: [framePlugin]
  });
}

const full = (top, h) => ({ x: 0, w: 1113, left: 112, padR: 31, top, h });
const NU = 48, NUSUB = 26, NUDY = 21;

panel('c2h4', full(23, 214),
  [trace(c2h4, BLACK, 1, c2h4Red)], [900, 1000], [272, 286],
  { left: true, right: true, xMajor: c2h4XTicks, xMinor: 10, yMajor: c2h4YTicks, yMinor: 1,
    notes: [
      { at: [999.6, 273.9], align: 'right', color: '#000', size: 46, sub: 30, dy: 20, parts: [['C','m'],['2','s'],['H','m'],['4','s']] },
      { at: [953.2, 274.1], color: RED, size: NU, sub: NUSUB, dy: NUDY, parts: [['ν','g'],['7','s']] }
    ] }, true);

panel('nh3', full(278, 213),
  [trace(nh3, BLACK, 1.1, nh3Red)], [800, 1200], [245, 295],
  { left: true, right: true, xMajor: nh3XTicks, xMinor: 50, yMajor: nh3YTicks, yMinor: 5,
    notes: [
      { at: [1197.5, 252.4], align: 'right', color: '#000', size: 46, sub: 30, dy: 20, parts: [['NH','m'],['3','s']] },
      { at: [927.8, 272.9], color: RED, size: NU, sub: NUSUB, dy: NUDY, parts: [['ν','g'],['2','s']] }
    ] }, true);

panel('so2a', { x: 0, w: 600, left: 112, padR: 10, top: 534, h: 212 },
  [trace(so2Low, BLACK, 1.2, so2LowRed)], [1000, 1500], [220, 285],
  { left: true, right: false, brk: 'right', xMajor: so2LowXTicks, xMinor: 100, yMajor: so2YTicks, yMinor: 5,
    notes: [
      { at: [1115, 274.9], color: RED, size: NU, sub: NUSUB, dy: NUDY, parts: [['ν','g'],['1','s']] },
      { at: [1343, 260.2], color: RED, size: NU, sub: NUSUB, dy: NUDY, parts: [['ν','g'],['3','s']] }
    ] }, true);

panel('so2b', { x: 560, w: 553, left: 43, padR: 31, top: 534, h: 212 },
  [trace(so2High, BLACK, 1, so2HighRed)], [2400, 2550], [220, 285],
  { left: false, right: true, brk: 'left', xMajor: so2HighXTicks, xMinor: 25, yMajor: so2YTicks, yMinor: 5,
    notes: [
      { at: [2548.1, 231.9], align: 'right', color: '#000', size: 46, sub: 30, dy: 20, parts: [['SO','m'],['2','s']] },
      { at: [2495.2, 263.2], color: RED, size: NU, sub: NUSUB, dy: NUDY, parts: [['ν','g'],['1','s'],['+','g'],['ν','g'],['3','s']] }
    ] }, false);

panel('ch3oh', full(789, 213),
  [trace(ch3oh, BLACK, 1, ch3ohRed)], [975, 1075], [240, 275],
  { left: true, right: true, xMajor: ch3ohXTicks, xMinor: 10, yMajor: ch3ohYTicks, yMinor: 2.5,
    notes: [
      { at: [1074.6, 243.6], align: 'right', color: '#000', size: 46, sub: 30, dy: 20, parts: [['CH','m'],['3','s'],['OH','m']] },
      { at: [1026.5, 246.6], color: RED, size: NU, sub: NUSUB, dy: NUDY, parts: [['ν','g'],['8','s']] }
    ] }, true);

panel('c3h6', full(1045, 213),
  [trace(c3h6Ref, RED, 1.2, null, 0), trace(c3h6Meas, BLUE, 1.2, null, 1)], [880, 980], [-15, 5],
  { left: true, right: true, expPow: -6, xMajor: c3h6XTicks, xMinor: 10, yMajor: c3h6YTicks, yMinor: 2.5,
    notes: [
      { at: [978.8, -12.4], align: 'right', color: '#000', size: 47, sub: 30, dy: 20, parts: [['C','m'],['3','s'],['H','m'],['6','s'],[' (Propylene)','m']] },
      { at: [914.3, -11.15], color: RED, size: NU, sub: NUSUB, dy: NUDY, parts: [['ν','g'],['19','s']] }
    ] }, false);

panel('h2co', full(1300, 213),
  [trace(h2coRef, RED, 1.2, null, 0), trace(h2coMeas, BLUE, 1.2, null, 1)], [2710, 2760], [-8, 6],
  { left: true, right: true, expPow: -7, xMajor: h2coXTicks, xMinor: 2.5, yMajor: h2coYTicks, yMinor: 1,
    notes: [
      { at: [2759.4, 2.5], align: 'right', color: '#000', size: 46, sub: 30, dy: 20, parts: [['H','m'],['2','s'],['CO','m']] },
      { at: [2755.9, -5.7], color: RED, size: NU, sub: NUSUB, dy: NUDY, parts: [['ν','g'],['1','s']] }
    ] }, false);
</script>
</body>
</html>
